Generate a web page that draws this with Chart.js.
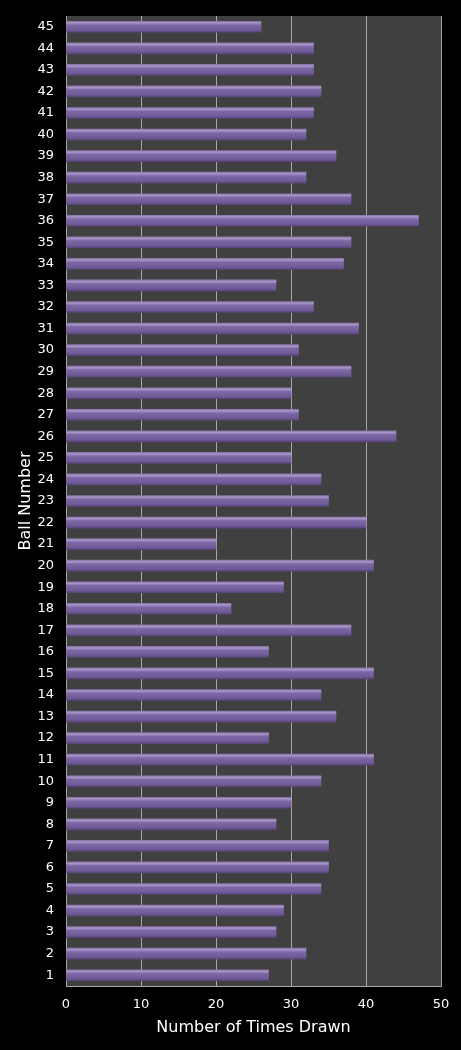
<!DOCTYPE html>
<html>
<head>
<meta charset="utf-8">
<script src="https://cdn.jsdelivr.net/npm/chart.js@4"></script>
<style>
  html, body { margin: 0; padding: 0; background: #000; }
  #wrap { width: 461px; height: 1050px; position: relative; }
</style>
</head>
<body>
<div id="wrap"><canvas id="chart-ball-frequency"></canvas></div>
<script>
// ball numbers 1..45 and how often each was drawn
var balls = ["1","2","3","4","5","6","7","8","9","10","11","12","13","14","15","16","17","18","19","20","21","22","23","24","25","26","27","28","29","30","31","32","33","34","35","36","37","38","39","40","41","42","43","44","45"];
var timesDrawn = [27, 32, 28, 29, 34, 35, 35, 28, 30, 34, 41, 27, 36, 34, 41, 27, 38, 22, 29, 41, 20, 40, 35, 34, 30, 44, 31, 30, 38, 31, 39, 33, 28, 37, 38, 47, 38, 32, 36, 32, 33, 34, 33, 33, 26];
var xTicks = [0, 10, 20, 30, 40, 50];

// dark plot area behind the bars
var plotBackground = {
    id: "plotBackground",
    beforeDraw: function (chart) {
        var a = chart.chartArea;
        var c = chart.ctx;
        c.save();
        c.fillStyle = "#404040";
        c.fillRect(a.left, a.top, a.right - a.left, a.bottom - a.top);
        c.restore();
    }
};

// bevelled look: light strip on top, darker underside
function barFill(context) {
    var chart = context.chart;
    if (!chart.chartArea) return "#7a64a3";
    var y = chart.scales.y.getPixelForValue(context.dataIndex);
    var g = chart.ctx.createLinearGradient(0, y - 5.5, 0, y + 5.5);
    g.addColorStop(0, "#8a76ad");
    g.addColorStop(0.15, "#a797c7");
    g.addColorStop(0.35, "#7d67a6");
    g.addColorStop(0.8, "#6f5a97");
    g.addColorStop(1, "#574577");
    return g;
}

var ctx = document.getElementById("chart-ball-frequency").getContext("2d");
var myChart = new Chart(ctx, {
    type: "bar",
    data: {
        labels: balls,
        datasets: [
            {
                label: "Number of Times Drawn",
                data: timesDrawn,
                backgroundColor: barFill,
                borderWidth: 0,
                barThickness: 11
            }
        ]
    },
    options: {
        indexAxis: "y",
        responsive: true,
        maintainAspectRatio: false,
        animation: false,
        layout: {
            padding: { left: 0, top: 16, right: 20, bottom: 0 }
        },
        plugins: {
            legend: { display: false },
            tooltip: { enabled: false }
        },
        scales: {
            x: {
                min: 0,
                max: 50,
                afterBuildTicks: function (scale) {
                    scale.ticks = xTicks.map(function (v) { return { value: v }; });
                },
                afterFit: function (scale) {
                    scale.height = 64;
                    scale.paddingLeft = 0;
                    scale.paddingRight = 0;
                },
                grid: {
                    color: "#a8a8a8",
                    lineWidth: 1,
                    drawTicks: false
                },
                border: { color: "#a8a8a8" },
                ticks: {
                    color: "#ffffff",
                    padding: 11,
                    font: { family: "DejaVu Sans", size: 13 }
                },
                title: {
                    display: true,
                    text: "Number of Times Drawn",
                    color: "#ffffff",
                    padding: { top: 4, bottom: 13 },
                    font: { family: "DejaVu Sans", size: 16 }
                }
            },
            y: {
                reverse: true,
                afterFit: function (scale) {
                    scale.width = 66;
                    scale.paddingTop = 0;
                    scale.paddingBottom = 0;
                },
                grid: { display: false, drawTicks: false },
                border: { color: "#a8a8a8" },
                ticks: {
                    color: "#ffffff",
                    padding: 12,
                    autoSkip: false,
                    font: { family: "DejaVu Sans", size: 13 }
                },
                title: {
                    display: true,
                    text: "Ball Number",
                    color: "#ffffff",
                    padding: { top: 16, bottom: 0 },
                    font: { family: "DejaVu Sans", size: 16 }
                }
            }
        }
    },
    plugins: [plotBackground]
});
</script>
</body>
</html>
